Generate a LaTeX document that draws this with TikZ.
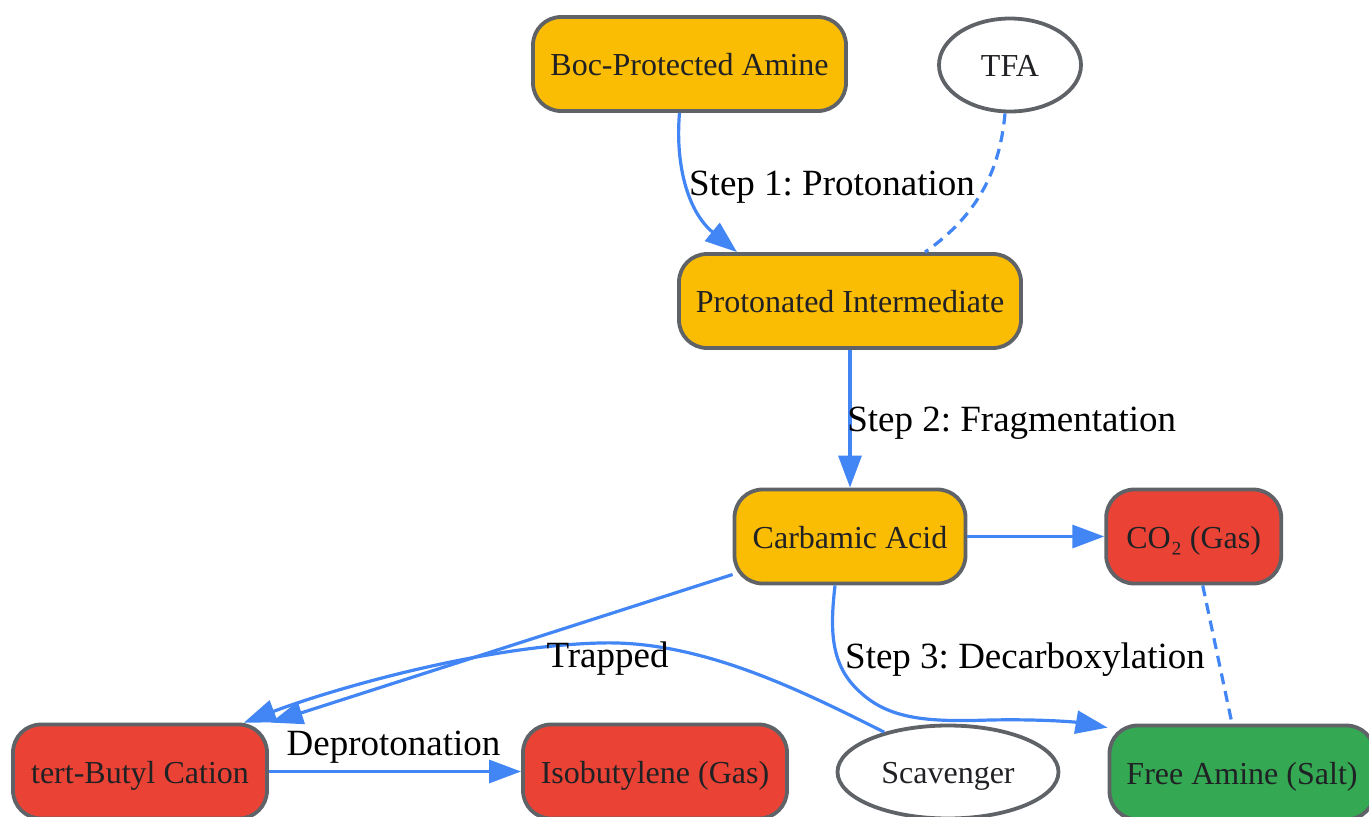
\documentclass[tikz,border=0pt]{standalone}
\usepackage{fontspec}
\setmainfont{Liberation Serif}
\usetikzlibrary{arrows.meta,calc,shapes.geometric}
\definecolor{gyellow}{HTML}{FBBC04}
\definecolor{gred}{HTML}{EA4335}
\definecolor{ggreen}{HTML}{34A853}
\definecolor{gblue}{HTML}{4285F4}
\definecolor{gborder}{HTML}{5F6368}
\definecolor{gtext}{HTML}{202124}
\frenchspacing
\begin{document}
\begin{tikzpicture}[x=1pt,y=-1pt,
  nodefont/.style={font=\fontsize{32}{38}\selectfont\frenchspacing, text=gtext, text height=23.4pt, text depth=0pt},
  box/.style={nodefont, draw=gborder, line width=3.8pt, rounded corners=28pt, minimum height=94pt, inner sep=0pt},
  oval/.style={nodefont, ellipse, draw=gborder, line width=3.8pt, fill=white, inner sep=0pt},
  conn/.style={draw=gblue, line width=3.2pt, -{Triangle[length=32pt,width=23pt]}},
  dconn/.style={draw=gblue, line width=3.2pt, dash pattern=on 11pt off 7pt},
  lbl/.style={font=\fontsize{37}{44}\selectfont\frenchspacing, text=black, anchor=base, inner sep=0pt}
]
\useasboundingbox (0,0) rectangle (1369,817);

\node[box, fill=gyellow, minimum width=313pt] (boc) at (689.5,64) {Boc-Protected Amine};
\node[oval, minimum width=142pt, minimum height=93pt] (tfa) at (1010,65) {TFA};
\node[box, fill=gyellow, minimum width=342pt] (prot) at (850,301) {Protonated Intermediate};
\node[box, fill=gyellow, minimum width=231pt] (carb) at (850,536.5) {Carbamic Acid};
\node[box, fill=gred, minimum width=175pt] (co2) at (1193.7,536.5) {CO₂ (Gas)};
\node[box, fill=gred, minimum width=254pt] (tert) at (140,771.5) {tert-Butyl Cation};
\node[box, fill=gred, minimum width=264pt] (iso) at (655,771.5) {Isobutylene (Gas)};
\node[oval, minimum width=221pt, minimum height=93pt] (scav) at (948,772) {Scavenger};
\node[box, fill=ggreen, minimum width=265pt] (free) at (1242,772.5) {Free Amine (Salt)};

% Step 1
\draw[conn] ($(boc.south)+(-10,0)$) .. controls (675,165) and (688,212) .. ($(prot.north)+(-113,0)$)
  node[lbl] at (832,195) {Step 1: Protonation};
% TFA dashed
\draw[dconn] ($(tfa.south)+(-5,0)$) .. controls (1000,170) and (978,215) .. ($(prot.north)+(75,0)$);
% Step 2
\draw[conn] (prot.south) -- (carb.north)
  node[lbl] at (1011.7,431) {Step 2: Fragmentation};
% CO2
\draw[conn] (carb.east) -- (co2.west);
% Carbamic -> tert
\draw[conn] ($(carb.west)+(0,38)$) -- ($(tert.north east)+(2,0)$);
% Step 3
\draw[conn] ($(carb.south)+(-15,0)$) .. controls (830,630) and (830,665) .. (860,692)
  .. controls (890,720) and (930,722) .. (990,720)
  .. controls (1040,719) and (1075,722) .. ($(free.north west)+(0,4)$)
  node[lbl] at (1025,668) {Step 3: Decarboxylation};
% CO2 -- Free amine dashed
\draw[dconn] ($(co2.south)+(9,0)$) -- ($(free.north)+(-10,0)$);
% Deprotonation
\draw[conn] (tert.east) -- (iso.west)
  node[lbl] at (393.5,755) {Deprotonation};
% Trapped
\draw[conn] (scav.148) .. controls (800,690) and (700,640) .. (600,643)
  .. controls (480,646) and (330,690) .. ($(tert.north east)+(-25,0)$)
  node[lbl] at (607.5,667) {Trapped};
\end{tikzpicture}
\end{document}
